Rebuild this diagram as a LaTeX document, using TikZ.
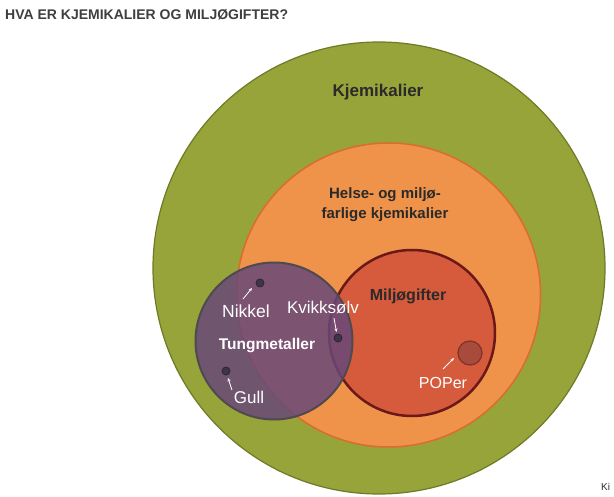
\documentclass[tikz,border=0pt]{standalone}
\usepackage{fontspec}
\setmainfont{Liberation Sans}
\usetikzlibrary{arrows.meta}
\definecolor{kgreen}{HTML}{97A43A}
\definecolor{kgreenB}{HTML}{6E7A25}
\definecolor{korange}{HTML}{F0934A}
\definecolor{korangeB}{HTML}{DD6A30}
\definecolor{kred}{HTML}{D65A3C}
\definecolor{kredB}{HTML}{6A1818}
\definecolor{kpurple}{HTML}{684878}
\definecolor{kpurpleB}{HTML}{4E4A50}
\definecolor{kpop}{HTML}{A84A3C}
\definecolor{kpopB}{HTML}{7E3228}
\definecolor{kdot}{HTML}{3E3548}
\definecolor{ktext}{HTML}{2A2A2A}
\begin{document}
\begin{tikzpicture}[x=1pt,y=-1pt,
  darklbl/.style={font=\bfseries\fontsize{15}{20}\selectfont, text=ktext, align=center},
  whitelbl/.style={font=\fontsize{17}{18}\selectfont, text=white, inner sep=0pt},
  whitebold/.style={font=\bfseries\fontsize{15.5}{18}\selectfont, text=white},
  metdot/.style={circle, fill=kdot, draw=kdot!70!black, line width=0.8pt, minimum size=8pt, inner sep=0pt},
  ptr/.style={draw=white, line width=0.8pt, -{Stealth[length=3.5pt,width=3pt]}}]
\useasboundingbox (0,0) rectangle (614,497);
\clip (0,0) rectangle (614,497);
\fill[white] (0,0) rectangle (614,497);
\node[anchor=west, font=\bfseries\fontsize{14}{16}\selectfont, text=ktext!90!white, inner sep=0pt] (title) at (5,15) {HVA ER KJEMIKALIER OG MILJØGIFTER?};
% circles
\draw[kgreenB, line width=1.2pt, fill=kgreen] (379,268) circle[radius=226];
\draw[korangeB, line width=1.5pt, fill=korange] (388.5,295) circle[radius=152];
\draw[kredB, line width=2.5pt, fill=kred] (412,333) circle[radius=83];
\draw[kpopB, line width=1.2pt, fill=kpop] (470,353) circle[radius=12];
\draw[kpurpleB, line width=2pt, fill=kpurple, fill opacity=0.85] (274,341) circle[radius=78.5];
% labels
\node[darklbl, font=\bfseries\fontsize{17}{20}\selectfont] (kjem) at (378,92) {Kjemikalier};
\node[darklbl] (helse) at (385,205) {Helse- og miljø-\\farlige kjemikalier};
\node[darklbl, font=\bfseries\fontsize{16}{20}\selectfont] (milj) at (408,296) {Miljøgifter};
\node[whitebold] (tung) at (267,346) {Tungmetaller};
\node[whitelbl, font=\fontsize{17.5}{18}\selectfont] (nik) at (246,311) {Nikkel};
\node[whitelbl] (kvi) at (323,307) {Kvikksølv};
\node[whitelbl] (gull) at (249,397) {Gull};
\node[whitelbl, font=\fontsize{16}{18}\selectfont] (pop) at (443,383) {POPer};
% dots
\node[metdot] (dnik) at (260,283) {};
\node[metdot] (dkvi) at (338,338) {};
\node[metdot] (dgull) at (226,371) {};
% pointers
\draw[ptr] (243,299) -- (252,288);
\draw[ptr] (334,318) -- (336.5,332);
\draw[ptr] (232,390) -- (228,378);
\draw[ptr] (443,369) -- (454,358);
\node[anchor=west, font=\fontsize{10}{11}\selectfont, text=ktext, inner sep=0pt] (kilde) at (601,487) {Ki};
\end{tikzpicture}
\end{document}
